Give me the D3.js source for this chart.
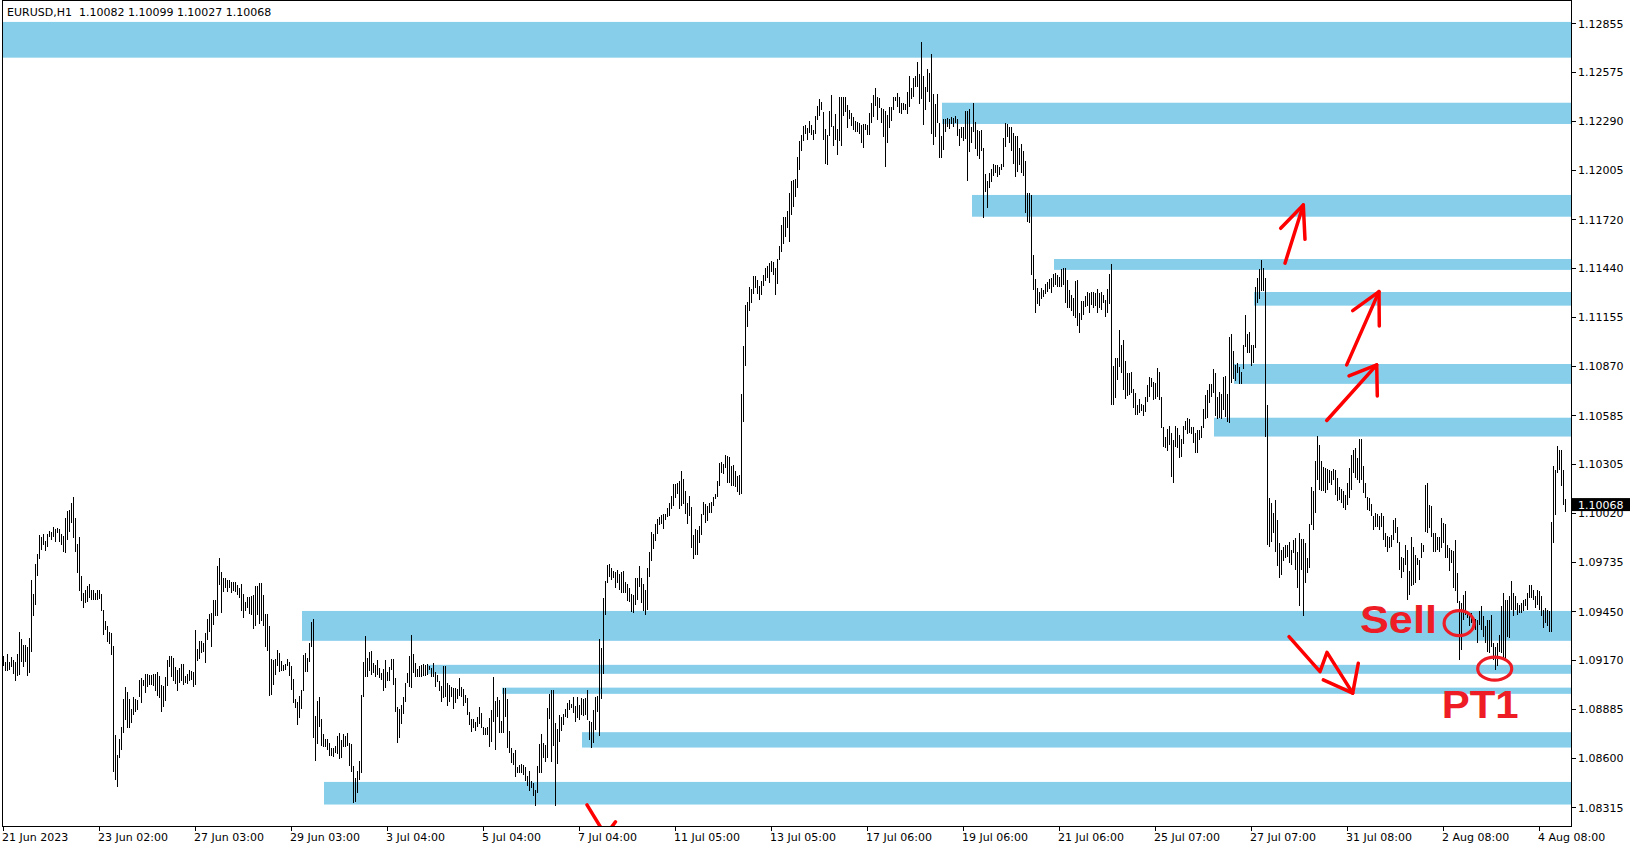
<!DOCTYPE html>
<html><head><meta charset="utf-8">
<script src="https://cdn.jsdelivr.net/npm/d3@7"></script>
<style>
html,body{margin:0;padding:0;background:#fff;}
svg{display:block;}
</style></head><body>
<svg id="chart" width="1635" height="850"></svg>
<script>
// ---------- DATA ----------
const chartTitle = "EURUSD,H1  1.10082 1.10099 1.10027 1.10068";
const lastClose = 1.10068;

const highs = [
1.09192,1.09159,1.09204,1.09154,1.09188,1.09169,1.09159,1.09204,1.09333,1.09291,
1.09252,1.09252,1.09246,1.09298,1.09632,1.09551,1.09723,1.09783,1.09893,1.09883,
1.09898,1.09858,1.09898,1.09916,1.09912,1.09941,1.09925,1.09931,1.09927,1.09898,
1.09887,1.09989,1.10028,1.10034,1.10076,1.10111,1.09989,1.09841,1.09879,1.09655,
1.09555,1.09574,1.09594,1.09607,1.09574,1.09574,1.09555,1.09574,1.09574,1.09551,
1.09458,1.09395,1.09362,1.09333,1.09323,1.09250,1.08735,1.08615,1.08712,1.08779,
1.08943,1.09011,1.08982,1.08943,1.08883,1.08953,1.08943,1.08937,1.09053,1.09061,
1.09053,1.09088,1.09088,1.09082,1.09080,1.09088,1.09088,1.09099,1.09073,1.09024,
1.09015,1.09069,1.09169,1.09192,1.09192,1.09179,1.09130,1.09111,1.09121,1.09146,
1.09146,1.09077,1.09088,1.09111,1.09107,1.09101,1.09343,1.09233,1.09279,1.09279,
1.09269,1.09323,1.09406,1.09433,1.09439,1.09516,1.09516,1.09713,1.09758,1.09676,
1.09642,1.09642,1.09632,1.09632,1.09621,1.09617,1.09617,1.09603,1.09584,1.09609,
1.09551,1.09501,1.09530,1.09530,1.09539,1.09545,1.09594,1.09597,1.09613,1.09613,
1.09545,1.09435,1.09435,1.09362,1.09173,1.09169,1.09173,1.09227,1.09211,1.09165,
1.09140,1.09146,1.09173,1.09154,1.09134,1.09057,1.08945,1.08924,1.08962,1.08995,
1.09198,1.09211,1.09182,1.09265,1.09387,1.09406,1.08845,1.08933,1.08953,1.08827,
1.08739,1.08710,1.08712,1.08686,1.08661,1.08661,1.08671,1.08729,1.08744,1.08706,
1.08739,1.08729,1.08744,1.08686,
1.08682,1.08555,1.08487,1.08526,1.08584,1.08966,1.09159,1.09307,1.09178,1.09217,
1.09222,1.09153,1.09139,1.09168,1.09120,1.09095,1.09114,1.09168,1.09101,1.09130,
1.09174,1.09174,1.09062,1.08898,1.08883,1.08908,1.08952,1.09033,1.09091,1.09193,
1.09313,1.09203,1.09153,1.09116,1.09135,1.09139,1.09145,1.09139,1.09145,1.09135,
1.09120,1.09149,1.09101,1.09081,1.09049,1.09020,1.09133,1.09133,1.09033,1.09023,
1.09014,1.09004,1.09004,1.08998,1.09062,1.09014,1.09000,1.08966,1.08946,1.08869,
1.08825,1.08825,1.08811,1.08840,1.08898,1.08863,1.08782,1.08773,1.08782,1.08830,
1.08879,1.09068,1.08931,1.08956,1.08937,1.08815,1.09004,1.09004,1.08942,1.08757,
1.08657,1.08632,1.08647,1.08551,1.08560,1.08566,1.08560,1.08547,1.08497,1.08526,
1.08470,1.08458,1.08416,1.08556,1.08682,1.08738,1.08686,1.08676,1.08892,1.08971,
1.08994,1.08994,1.08802,1.08769,1.08850,1.08840,1.08855,1.08883,1.08917,1.08937,
1.08913,1.08956,1.08904,1.08956,1.08908,1.08950,1.08942,1.08950,1.08994,1.08815,
1.08811,1.08879,1.08956,1.08962,1.09288,1.09236,1.09525,1.09626,1.09718,1.09724,
1.09699,1.09683,1.09680,1.09689,1.09666,1.09680,1.09683,1.09622,1.09606,1.09583,
1.09548,1.09545,1.09641,1.09641,1.09714,
1.09642,1.09606,1.09574,1.09701,1.09792,1.09911,1.09900,1.09953,1.09985,1.09995,
1.10006,1.10012,1.10016,1.10048,1.10079,1.10117,1.10185,1.10189,1.10195,1.10206,
1.10263,1.10216,1.10147,1.10079,1.10117,1.10054,1.09894,1.09926,1.09922,1.09943,
1.10016,1.10084,1.10069,1.10058,1.10079,1.10084,1.10111,1.10132,1.10202,1.10311,
1.10317,1.10305,1.10357,1.10349,1.10343,1.10294,1.10300,1.10265,1.10231,1.10237,
1.10711,1.10989,1.11222,1.11241,1.11326,1.11317,1.11389,1.11391,1.11368,1.11332,
1.11364,1.11395,1.11437,1.11448,1.11469,1.11479,1.11473,1.11437,1.11490,1.11564,
1.11688,1.11732,1.11736,1.11768,1.11873,1.11942,1.11949,1.11953,1.12079,1.12174,
1.12210,1.12258,1.12264,1.12248,1.12290,1.12264,1.12237,1.12321,1.12374,1.12416,
1.12399,1.12342,1.12243,1.12206,1.12349,1.12437,1.12258,1.12328,1.12243,1.12427,
1.12431,1.12431,1.12427,1.12384,1.12353,1.12336,1.12315,1.12290,1.12285,1.12279,
1.12264,1.12269,1.12269,1.12264,1.12336,1.12391,1.12437,1.12479,1.12431,1.12420,
1.12363,1.12357,1.12349,1.12326,1.12368,1.12370,1.12431,1.12431,1.12452,1.12427,
1.12391,1.12391,1.12388,1.12455,1.12552,1.12478,1.12540,1.12550,1.12629,1.12561,
1.12745,1.12550,1.12484,1.12590,1.12569,1.12677,1.12445,1.12388,1.12445,1.12276,
1.12202,1.12299,1.12299,1.12305,1.12299,1.12314,1.12305,1.12318,1.12301,1.12243,
1.12256,1.12252,1.12349,1.12349,1.12359,1.12256,1.12395,1.12281,1.12237,1.12233,
1.12237,1.12133,1.11982,1.11942,1.11986,1.12011,1.12040,1.12034,1.12034,1.12025,
1.12040,1.12189,1.12276,1.12272,1.12256,1.12252,1.12218,1.12202,1.12202,1.12135,
1.12154,1.12117,1.12059,1.11874,1.11870,1.11861,1.11513,1.11374,1.11320,1.11301,
1.11324,1.11311,1.11345,1.11359,1.11372,1.11378,1.11401,1.11411,1.11397,1.11384,
1.11432,1.11436,1.11440,1.11368,1.11311,1.11282,1.11262,1.11365,1.11368,1.11175,
1.11247,1.11247,1.11276,1.11297,1.11295,1.11301,1.11301,1.11291,1.11314,1.11295,
1.11301,1.11282,1.11253,1.11314,1.11403,1.11461,1.10871,1.10915,1.10919,1.11079,
1.10992,1.11021,1.10901,1.10832,1.10828,1.10838,1.10735,1.10716,1.10645,1.10680,
1.10649,1.10645,1.10693,1.10761,1.10809,1.10799,1.10780,1.10774,1.10857,1.10838,
1.10693,1.10519,1.10461,1.10504,1.10523,1.10481,1.10442,1.10523,1.10510,1.10471,
1.10446,1.10523,1.10554,1.10568,1.10562,1.10519,1.10515,1.10481,1.10500,1.10500,
1.10523,1.10621,1.10703,1.10732,1.10766,1.10766,1.10851,1.10828,1.10689,1.10722,
1.10708,1.10809,1.10815,1.10708,1.11040,1.11056,1.10959,1.10876,1.10890,1.10863,
1.10838,1.10992,1.11166,1.11056,1.11066,1.10992,1.10992,1.11330,1.11378,1.11430,
1.11485,1.11437,1.11379,1.10646,1.10105,1.10076,1.10018,1.10092,1.09980,1.09845,
1.09806,1.09825,1.09835,1.09835,1.09854,1.09806,1.09864,1.09874,1.09796,1.09903,
1.09868,1.09868,1.09845,1.09758,1.09957,1.10169,1.10144,1.10318,1.10466,1.10414,
1.10318,1.10285,1.10279,1.10273,1.10269,1.10265,1.10273,1.10269,1.10221,1.10169,
1.10157,1.10144,1.10124,1.10192,1.10279,1.10356,1.10385,1.10395,1.10337,1.10447,
1.10447,1.10289,1.10192,1.10111,1.10105,1.10072,1.09999,1.10018,1.10014,1.09999,
1.10018,1.09999,1.09903,1.09887,1.09879,1.09893,1.09980,1.09989,1.09941,1.09854,
1.09767,1.09758,1.09835,1.09806,1.09681,1.09879,1.09825,1.09777,1.09758,1.09748,
1.09845,1.09835,1.10182,1.10192,1.10067,1.10057,1.09903,1.09906,1.09879,1.09883,
1.09993,1.09960,1.09957,1.09835,1.09816,1.09806,1.09802,1.09864,1.09671,1.09507,
1.09497,1.09546,1.09565,1.09449,1.09439,1.09439,1.09391,1.09405,1.09401,1.09449,
1.09482,1.09420,1.09362,1.09401,1.09401,1.09430,1.09265,1.09246,1.09265,1.09314,
1.09478,1.09555,1.09517,1.09517,1.09536,1.09623,1.09555,1.09536,1.09497,1.09488,
1.09497,1.09517,1.09521,1.09555,1.09603,1.09603,1.09574,1.09536,1.09574,1.09565,
1.09536,1.09459,1.09468,1.09459,1.09449,1.09970,1.10292,1.10269,1.10408,1.10385,
1.10385,1.10269,1.10099
];

const lows = [
1.09134,1.09107,1.09107,1.09111,1.09127,1.09088,1.09044,1.09077,1.09082,1.09154,
1.09127,1.09154,1.09073,1.09092,1.09217,1.09420,1.09484,1.09657,1.09752,1.09806,
1.09835,1.09802,1.09825,1.09883,1.09860,1.09883,1.09854,1.09902,1.09854,1.09835,
1.09796,1.09786,1.09860,1.09912,1.09960,1.09873,1.09792,1.09671,1.09570,1.09512,
1.09472,1.09497,1.09503,1.09526,1.09516,1.09516,1.09516,1.09516,1.09520,1.09449,
1.09310,1.09339,1.09275,1.09262,1.09198,1.08522,1.08474,1.08430,1.08598,1.08648,
1.08748,1.08818,1.08777,1.08777,1.08802,1.08847,1.08866,1.08879,1.08951,1.08918,
1.09015,1.08976,1.09011,1.09024,1.09024,1.09015,1.08986,1.08957,1.08947,1.08864,
1.08895,1.08928,1.09015,1.09130,1.09069,1.09044,1.09030,1.08986,1.09034,1.09049,
1.09024,1.09034,1.09028,1.09044,1.09053,1.09009,1.09024,1.09165,1.09173,1.09211,
1.09217,1.09150,1.09281,1.09333,1.09246,1.09372,1.09420,1.09420,1.09603,1.09443,
1.09561,1.09584,1.09559,1.09584,1.09555,1.09568,1.09561,1.09545,1.09526,1.09449,
1.09410,1.09449,1.09468,1.09435,1.09429,1.09350,1.09366,1.09429,1.09377,1.09391,
1.09362,1.09246,1.09221,1.08957,1.08966,1.09024,1.09082,1.09134,1.09101,1.09105,
1.09105,1.09111,1.09134,1.09073,1.08995,1.08918,1.08889,1.08793,1.08831,1.08887,
1.08986,1.09096,1.09101,1.09154,1.09246,1.08715,1.08586,1.08681,1.08779,1.08671,
1.08663,1.08663,1.08644,1.08613,1.08613,1.08605,1.08629,1.08623,1.08594,1.08600,
1.08663,1.08667,1.08671,1.08557,
1.08522,1.08338,1.08348,1.08396,1.08473,1.08516,1.08952,1.09072,1.09068,1.09106,
1.09081,1.09091,1.09072,1.09081,1.09062,1.09052,1.08991,1.09004,1.09048,1.09048,
1.09110,1.09023,1.08869,1.08690,1.08719,1.08798,1.08855,1.08927,1.09033,1.09010,
1.09004,1.09091,1.09072,1.09072,1.09072,1.09072,1.09076,1.09076,1.09081,1.09110,
1.09072,1.09068,1.09014,1.09043,1.08991,1.08927,1.08946,1.08952,1.08904,1.08927,
1.08952,1.08883,1.08917,1.08942,1.08962,1.08956,1.08904,1.08917,1.08850,1.08792,
1.08753,1.08773,1.08759,1.08782,1.08798,1.08773,1.08734,1.08734,1.08734,1.08666,
1.08695,1.08811,1.08647,1.08840,1.08744,1.08744,1.08744,1.08840,1.08657,1.08628,
1.08574,1.08560,1.08493,1.08512,1.08512,1.08516,1.08502,1.08468,1.08441,1.08412,
1.08425,1.08381,1.08325,1.08400,1.08512,1.08512,1.08599,1.08580,1.08599,1.08825,
1.08580,1.08670,1.08325,1.08566,1.08695,1.08759,1.08792,1.08836,1.08830,1.08879,
1.08888,1.08859,1.08811,1.08830,1.08821,1.08850,1.08844,1.08850,1.08821,1.08705,
1.08657,1.08686,1.08763,1.08865,1.08728,1.08940,1.09087,1.09429,1.09616,1.09651,
1.09631,1.09641,1.09587,1.09612,1.09574,1.09554,1.09554,1.09554,1.09510,1.09506,
1.09448,1.09438,1.09487,1.09516,1.09593,
1.09500,1.09450,1.09430,1.09460,1.09648,1.09739,1.09810,1.09858,1.09900,1.09949,
1.09953,1.09928,1.09979,1.09995,1.10002,1.10042,1.10058,1.10107,1.10132,1.10042,
1.10058,1.10069,1.10012,1.09957,1.09999,1.09816,1.09753,1.09774,1.09774,1.09848,
1.09890,1.10006,1.09964,1.09974,1.10021,1.10021,1.10058,1.10100,1.10111,1.10174,
1.10248,1.10244,1.10279,1.10195,1.10195,1.10174,1.10174,1.10168,1.10143,1.10126,
1.10132,1.10547,1.10869,1.11094,1.11191,1.11233,1.11290,1.11321,1.11290,1.11254,
1.11279,1.11332,1.11364,1.11378,1.11353,1.11412,1.11395,1.11284,1.11347,1.11486,
1.11528,1.11578,1.11616,1.11669,1.11591,1.11747,1.11793,1.11848,1.11900,1.12006,
1.12117,1.12174,1.12216,1.12180,1.12222,1.12206,1.12180,1.12216,1.12294,1.12317,
1.12353,1.12180,1.12041,1.12033,1.12201,1.12252,1.12142,1.12180,1.12090,1.12174,
1.12142,1.12321,1.12342,1.12248,1.12300,1.12258,1.12237,1.12227,1.12227,1.12216,
1.12159,1.12132,1.12237,1.12206,1.12206,1.12279,1.12311,1.12374,1.12294,1.12363,
1.12279,1.12195,1.12020,1.12163,1.12248,1.12290,1.12353,1.12405,1.12370,1.12338,
1.12330,1.12353,1.12353,1.12330,1.12368,1.12416,1.12426,1.12484,1.12484,1.12388,
1.12416,1.12266,1.12353,1.12455,1.12401,1.12214,1.12150,1.12195,1.12276,1.12077,
1.12077,1.12121,1.12227,1.12252,1.12241,1.12272,1.12256,1.12276,1.12202,1.12144,
1.12189,1.12175,1.12185,1.11944,1.12108,1.12160,1.12227,1.12127,1.12086,1.12069,
1.12117,1.11729,1.11876,1.11787,1.11899,1.11934,1.11971,1.11990,1.11967,1.11976,
1.12005,1.12025,1.12140,1.12198,1.12164,1.12117,1.12040,1.11967,1.11996,1.12034,
1.11990,1.11973,1.11758,1.11706,1.11697,1.11397,1.11311,1.11175,1.11230,1.11218,
1.11256,1.11272,1.11286,1.11301,1.11316,1.11291,1.11330,1.11340,1.11330,1.11326,
1.11330,1.11340,1.11233,1.11204,1.11208,1.11191,1.11162,1.11146,1.11104,1.11064,
1.11137,1.11166,1.11214,1.11218,1.11179,1.11224,1.11204,1.11218,1.11179,1.11208,
1.11195,1.11237,1.11156,1.11175,1.11230,1.10645,1.10645,1.10683,1.10789,1.10867,
1.10828,1.10732,1.10678,1.10697,1.10703,1.10712,1.10625,1.10587,1.10587,1.10600,
1.10610,1.10583,1.10606,1.10664,1.10693,1.10751,1.10674,1.10678,1.10693,1.10674,
1.10513,1.10403,1.10394,1.10380,1.10413,1.10230,1.10195,1.10403,1.10394,1.10340,
1.10346,1.10419,1.10500,1.10477,1.10481,1.10477,1.10423,1.10365,1.10365,1.10442,
1.10452,1.10510,1.10562,1.10568,1.10654,1.10693,1.10716,1.10581,1.10562,1.10568,
1.10562,1.10616,1.10577,1.10548,1.10539,1.10774,1.10794,1.10786,1.10828,1.10766,
1.10766,1.10851,1.10979,1.10948,1.10948,1.10871,1.10886,1.10973,1.11233,1.11256,
1.11302,1.11302,1.10462,1.09835,1.09825,1.09854,1.09903,1.09796,1.09710,1.09642,
1.09661,1.09739,1.09758,1.09767,1.09729,1.09719,1.09787,1.09690,1.09584,1.09478,
1.09690,1.09420,1.09613,1.09671,1.09700,1.09951,1.09918,1.10018,1.10211,1.10153,
1.10144,1.10144,1.10134,1.10153,1.10192,1.10182,1.10211,1.10125,1.10086,1.10096,
1.10076,1.10047,1.10038,1.10067,1.10105,1.10153,1.10250,1.10221,1.10211,1.10192,
1.10211,1.10134,1.10105,1.10038,1.10028,1.09999,1.09922,1.09937,1.09941,1.09918,
1.09941,1.09864,1.09825,1.09791,1.09816,1.09825,1.09864,1.09903,1.09845,1.09690,
1.09642,1.09675,1.09719,1.09517,1.09546,1.09594,1.09603,1.09613,1.09719,1.09632,
1.09758,1.09791,1.09912,1.09903,1.09932,1.09883,1.09791,1.09796,1.09806,1.09796,
1.09816,1.09845,1.09758,1.09758,1.09681,1.09729,1.09584,1.09565,1.09497,1.09169,
1.09227,1.09401,1.09430,1.09410,1.09362,1.09381,1.09362,1.09343,1.09265,1.09372,
1.09343,1.09304,1.09265,1.09217,1.09208,1.09246,1.09169,1.09111,1.09131,1.09217,
1.09208,1.09169,1.09169,1.09304,1.09294,1.09459,1.09420,1.09459,1.09430,1.09439,
1.09439,1.09449,1.09478,1.09459,1.09526,1.09526,1.09517,1.09468,1.09488,1.09459,
1.09420,1.09352,1.09381,1.09362,1.09333,1.09333,1.09845,1.10009,1.10250,1.10269,
1.10173,1.10067,1.10027
];

const priceTicks = [1.12855,1.12575,1.12290,1.12005,1.11720,1.11440,1.11155,1.10870,
  1.10585,1.10305,1.10020,1.09735,1.09450,1.09170,1.08885,1.08600,1.08315];

const timeLabels = ["21 Jun 2023","23 Jun 02:00","27 Jun 03:00","29 Jun 03:00","3 Jul 04:00",
  "5 Jul 04:00","7 Jul 04:00","11 Jul 05:00","13 Jul 05:00","17 Jul 06:00","19 Jul 06:00",
  "21 Jul 06:00","25 Jul 07:00","27 Jul 07:00","31 Jul 08:00","2 Aug 08:00","4 Aug 08:00"];
const timeLabelBars = [0,48,96,144,192,240,288,336,384,432,480,528,576,624,672,720,768];

// supply / demand zones (price top, price bottom, first bar)
const zoneTop    = [1.12863,1.12395,1.11861,1.11490,1.11299,1.10882,1.10571,1.09452,1.09140,1.09008,1.08750,1.08462];
const zoneBottom = [1.12656,1.12272,1.11735,1.11427,1.11220,1.10767,1.10462,1.09279,1.09088,1.08972,1.08661,1.08331];
const zoneStart  = [0,470,485,526,626,616,606,150,213,250,290,161];

// hand-drawn annotations, points as [bar, price]
const arrowPaths = [
  [[640.75,1.11466],[649.9,1.11803]], [[638.6,1.11668],[649.9,1.11803],[650.75,1.11604]],
  [[671.6,1.10877],[687.75,1.11301]], [[674.6,1.11191],[687.75,1.11301],[687.9,1.11102]],
  [[661.6,1.10555],[686.6,1.10877]], [[672.75,1.10813],[686.6,1.10877],[686.9,1.10697]],
  [[642.75,1.09303],[658.25,1.09101],[661.75,1.09212],[674.6,1.08976]],
  [[659.9,1.09053],[674.6,1.08976],[677.4,1.09149]],
  [[291.75,1.08329],[298.75,1.08196]], [[303.75,1.08196],[306,1.08231]]
];
const noteLabels = ["Sell","PT1"];
const noteBars   = [678.25, 719.1];
const notePrices = [1.09323, 1.08831];
const circleBars   = [727.8, 745.6];
const circlePrices = [1.09381, 1.09118];

// ---------- DRAW ----------
const svg = d3.select("#chart");
const W = 1635, H = 850;
const plotL = 2, plotR = 1571, plotT = 0, plotB = 826;

const x = d3.scaleLinear().domain([0, highs.length - 1]).range([3.5, 3.5 + 2 * (highs.length - 1)]);
const y = d3.scaleLinear().domain([1.08315, 1.12855]).range([807.3, 23.3]);

svg.append("rect").attr("width", W).attr("height", H).attr("fill", "#fff");

const defs = svg.append("defs");
defs.append("clipPath").attr("id", "plotClip").append("rect")
  .attr("x", plotL).attr("y", plotT).attr("width", plotR - plotL).attr("height", plotB - plotT);

const plot = svg.append("g").attr("clip-path", "url(#plotClip)");

// zones
plot.append("g").selectAll("rect").data(zoneTop).join("rect")
  .attr("x", (d, i) => x(zoneStart[i]) - 1.5)
  .attr("y", d => y(d))
  .attr("width", (d, i) => plotR - (x(zoneStart[i]) - 1.5))
  .attr("height", (d, i) => y(zoneBottom[i]) - y(d))
  .attr("fill", "#87CEEB");

// bars
plot.append("g").selectAll("line").data(highs).join("line")
  .attr("x1", (d, i) => x(i)).attr("x2", (d, i) => x(i))
  .attr("y1", d => y(d)).attr("y2", (d, i) => Math.max(y(lows[i]), y(d) + 1))
  .attr("stroke", "#000").attr("stroke-width", 1).attr("shape-rendering", "crispEdges");

// frame
const frame = svg.append("g").attr("stroke", "#000").attr("stroke-width", 1).attr("shape-rendering", "crispEdges");
frame.append("line").attr("x1", 2.5).attr("x2", 2.5).attr("y1", 0).attr("y2", plotB + 0.5);
frame.append("line").attr("x1", 2).attr("x2", plotR + 1).attr("y1", 0.5).attr("y2", 0.5);
frame.append("line").attr("x1", plotR + 0.5).attr("x2", plotR + 0.5).attr("y1", 0).attr("y2", plotB + 1);
frame.append("line").attr("x1", 2).attr("x2", plotR + 1).attr("y1", plotB + 0.5).attr("y2", plotB + 0.5);

// y axis ticks and labels
const yAx = svg.append("g");
yAx.selectAll("line").data(priceTicks).join("line")
  .attr("x1", plotR + 1).attr("x2", plotR + 5)
  .attr("y1", d => Math.round(y(d)) + 0.5).attr("y2", d => Math.round(y(d)) + 0.5)
  .attr("stroke", "#000").attr("shape-rendering", "crispEdges");
yAx.selectAll("text").data(priceTicks).join("text")
  .attr("x", 1578).attr("y", d => y(d) + 4.2)
  .attr("font-family", "DejaVu Sans, Verdana, sans-serif").attr("font-size", 11).attr("fill", "#000")
  .text(d => d.toFixed(5));

// x axis ticks and labels
const xAx = svg.append("g");
xAx.selectAll("line").data(timeLabelBars).join("line")
  .attr("x1", d => x(d)).attr("x2", d => x(d))
  .attr("y1", plotB + 1).attr("y2", plotB + 5)
  .attr("stroke", "#000").attr("shape-rendering", "crispEdges");
xAx.selectAll("text").data(timeLabels).join("text")
  .attr("x", (d, i) => x(timeLabelBars[i]) - 1.5).attr("y", 841)
  .attr("font-family", "DejaVu Sans, Verdana, sans-serif").attr("font-size", 11).attr("fill", "#000")
  .text(d => d);

// current price box
const cy = y(lastClose);
svg.append("rect").attr("x", 1572).attr("y", cy - 6.5).attr("width", 58).attr("height", 13).attr("fill", "#000");
svg.append("text").attr("x", 1578).attr("y", cy + 4.2)
  .attr("font-family", "DejaVu Sans, Verdana, sans-serif").attr("font-size", 11).attr("fill", "#fff")
  .text(lastClose.toFixed(5));

// title
svg.append("text").attr("x", 7).attr("y", 16)
  .attr("font-family", "DejaVu Sans, Verdana, sans-serif").attr("font-size", 11).attr("fill", "#000")
  .attr("xml:space", "preserve").style("white-space", "pre")
  .text(chartTitle);

// annotations
const ann = svg.append("g").attr("clip-path", "url(#plotClip)");
const lineGen = d3.line().x(d => x(d[0])).y(d => y(d[1]));
ann.selectAll("path").data(arrowPaths).join("path")
  .attr("d", d => lineGen(d))
  .attr("fill", "none").attr("stroke", "#ff0000").attr("stroke-width", 3.5)
  .attr("stroke-linecap", "round").attr("stroke-linejoin", "round");

ann.selectAll("ellipse").data(circleBars).join("ellipse")
  .attr("cx", d => x(d)).attr("cy", (d, i) => y(circlePrices[i]))
  .attr("rx", (d, i) => i === 0 ? 15 : 17).attr("ry", (d, i) => i === 0 ? 12.5 : 11.5)
  .attr("fill", "none").attr("stroke", "#ee1c25").attr("stroke-width", 3.2);

ann.selectAll("text").data(noteLabels).join("text")
  .attr("x", (d, i) => x(noteBars[i])).attr("y", (d, i) => y(notePrices[i]))
  .attr("font-family", "Liberation Sans, Arial, sans-serif").attr("font-weight", "bold")
  .attr("font-size", 38).attr("fill", "#ee1c25")
  .attr("textLength", 77).attr("lengthAdjust", "spacingAndGlyphs")
  .text(d => d);
</script>
</body></html>
